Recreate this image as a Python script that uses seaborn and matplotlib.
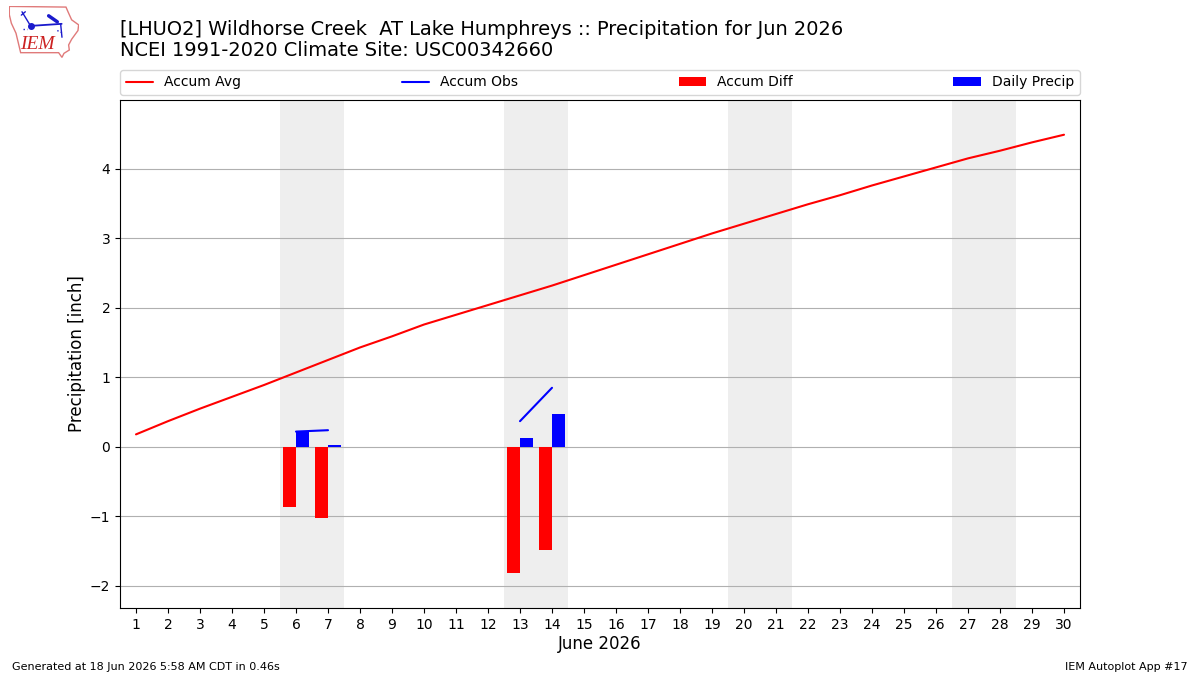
import numpy as np
import pandas as pd
import seaborn as sns
import matplotlib
matplotlib.use("Agg")
import matplotlib.pyplot as plt
from matplotlib.patches import Polygon

days = list(range(1, 31))
accum_avg = [0.18, 0.37, 0.55, 0.72, 0.89, 1.07, 1.25, 1.43, 1.59, 1.76,
             1.90, 2.04, 2.18, 2.32, 2.47, 2.62, 2.77, 2.92, 3.07, 3.21,
             3.35, 3.49, 3.62, 3.76, 3.89, 4.02, 4.15, 4.26, 4.38, 4.49]
obs_first_days = [6, 7]
obs_first_values = [0.22, 0.24]
obs_second_days = [13, 14]
obs_second_values = [0.37, 0.85]
diff_days = [6, 7, 13, 14]
diff_values = [-0.86, -1.02, -1.81, -1.48]
precip_days = [6, 7, 13, 14]
precip_values = [0.22, 0.02, 0.13, 0.47]
weekend_spans = [(5.5, 7.5), (12.5, 14.5), (19.5, 21.5), (26.5, 28.5)]

title_text = ("[LHUO2] Wildhorse Creek  AT Lake Humphreys :: Precipitation for Jun 2026\n"
              "NCEI 1991-2020 Climate Site: USC00342660")
footer_left = "Generated at 18 Jun 2026 5:58 AM CDT in 0.46s"
footer_right = "IEM Autoplot App #17"

# Iowa outline and station glyph for the small logo, in logo-local units
state_outline = [(28, 20), (198, 22), (205, 38), (215, 60), (236, 75), (234, 92),
                 (215, 118), (206, 135), (208, 150), (192, 160), (186, 172), (176, 158),
                 (62, 158), (48, 100), (34, 70), (28, 45)]

sns.set_theme(style="ticks", rc={
    "axes.grid": False,
    "text.color": "black",
    "axes.labelcolor": "black",
    "xtick.color": "black",
    "ytick.color": "black",
    "patch.edgecolor": "none",
})
plt.rcParams["font.family"] = "DejaVu Sans"

fig = plt.figure(figsize=(12, 6.75), dpi=100)
ax = fig.add_axes([0.1, 0.0993, 0.8, 0.7526])

for start, stop in weekend_spans:
    ax.axvspan(start, stop, color="#eeeeee", lw=0, zorder=0)

ax.bar(diff_days, diff_values, width=-0.4, align="edge", color="#ff0000",
       linewidth=0, label="Accum Diff", zorder=3)
ax.bar(precip_days, precip_values, width=0.4, align="edge", color="#0000ff",
       linewidth=0, label="Daily Precip", zorder=3)

line_kw = dict(ax=ax, linewidth=1.5, errorbar=None, zorder=4)
sns.lineplot(data=pd.DataFrame({"day": days, "avg": accum_avg}), x="day", y="avg",
             color="#ff0000", label="Accum Avg", **line_kw)
sns.lineplot(data=pd.DataFrame({"day": obs_first_days, "obs": obs_first_values}),
             x="day", y="obs", color="#0000ff", label="Accum Obs", **line_kw)
sns.lineplot(data=pd.DataFrame({"day": obs_second_days, "obs": obs_second_values}),
             x="day", y="obs", color="#0000ff", **line_kw)

ax.set_xlim(0.5, 30.5)
ax.set_ylim(-2.317, 4.99)
ax.set_xticks(days)
ax.set_yticks(range(-2, 5))
ax.tick_params(axis="both", labelsize=10, length=3.5, width=0.8, pad=3.5, color="black")
ax.yaxis.grid(True, color="#b0b0b0", linewidth=0.8)
ax.set_axisbelow(True)
ax.set_xlabel("June 2026", fontsize=12, labelpad=2.5)
ax.set_ylabel("Precipitation [inch]", fontsize=12, labelpad=2.5)
for spine in ax.spines.values():
    spine.set_visible(True)
    spine.set_linewidth(0.8)
    spine.set_color("black")

handles, labels = ax.get_legend_handles_labels()
order = ["Accum Avg", "Accum Obs", "Accum Diff", "Daily Precip"]
by_label = dict(zip(labels, handles))
ax.legend([by_label[k] for k in order], order, loc="lower left", ncol=4, mode="expand",
          bbox_to_anchor=(0, 1.0098, 1, 0.05), borderaxespad=0, fontsize=10, frameon=True)

fig.text(0.1, 0.9105, title_text, fontsize=13.99, ha="left", va="bottom", color="black",
         linespacing=1.15)
fig.text(0.01, 0.0045, footer_left, fontsize=8, ha="left", va="bottom")
fig.text(0.99, 0.0045, footer_right, fontsize=8, ha="right", va="bottom")

# Logo
logo = fig.add_axes([0.0075, 0.914, 0.0583, 0.0775])
logo.set_xlim(27, 237)
logo.set_ylim(174, 18)
logo.axis("off")
logo.add_patch(Polygon(state_outline, closed=True, fill=False, edgecolor="#e07a7a", linewidth=1))
glyph = "#1a1acc"
logo.plot([93, 185], [78, 72], color=glyph, lw=1.3)
logo.plot([93], [78], marker="o", ms=4, color=glyph)
logo.plot([66, 88], [36, 72], color=glyph, lw=1)
logo.plot([64, 76], [46, 36], color=glyph, lw=1)
logo.plot([146, 172], [48, 66], color=glyph, lw=2.5)
logo.plot([182, 186], [72, 112], color=glyph, lw=1)
logo.plot([172, 190], [92, 100], color=glyph, lw=1, ls=":")
logo.plot([68, 80], [88, 88], color=glyph, lw=1, ls=":")
logo.text(60, 158, "IEM", family="Liberation Serif", style="italic", color="#cc2222",
          fontsize=14, ha="left", va="bottom")

fig.savefig("out.png", dpi=100)
